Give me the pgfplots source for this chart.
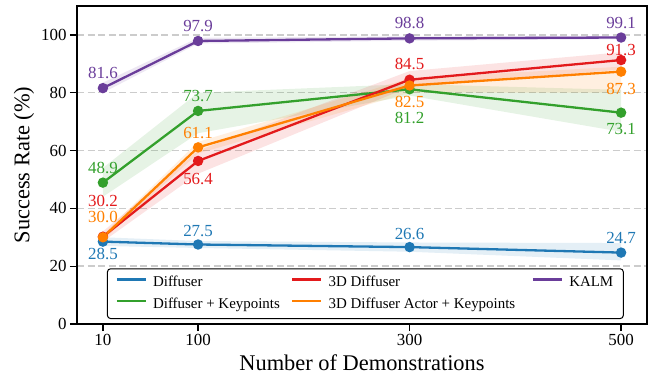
\documentclass[border=0pt]{standalone}
\usepackage{fontspec}
\setmainfont{Liberation Serif}
\usepackage{pgfplots}
\usepackage{pgfplotstable}
\pgfplotsset{compat=1.18}
\usepgfplotslibrary{fillbetween}
\definecolor{cblue}{HTML}{1F78B4}
\definecolor{cgreen}{HTML}{33A02C}
\definecolor{cred}{HTML}{E31A1C}
\definecolor{corange}{HTML}{FF7F00}
\definecolor{cpurple}{HTML}{6A3D9A}
\definecolor{cgrid}{HTML}{CCCCCC}

\pgfplotstableread{
x y lo hi dy lab
10 28.5 27.0 30.0 -12.5 28.5
100 27.5 26.3 28.7 13.5 27.5
300 26.6 25.0 28.2 13.5 26.6
500 24.7 22.0 28.0 15 24.7
}\diffuser
\pgfplotstableread{
x y lo hi dy lab
10 48.9 44.0 54.0 15 48.9
100 73.7 66.0 80.0 15 73.7
300 81.2 79.0 83.0 -28.5 81.2
500 73.1 66.5 81.0 -16 73.1
}\diffkp
\pgfplotstableread{
x y lo hi dy lab
10 30.2 28.5 32.0 35.5 30.2
100 56.4 52.0 60.0 -18 56.4
300 84.5 82.0 87.5 16 84.5
500 91.3 88.0 94.0 10 91.3
}\tdd
\pgfplotstableread{
x y lo hi dy lab
10 30.0 29.0 31.0 20 30.0
100 61.1 59.0 63.0 14 61.1
300 82.5 80.0 85.0 -16.5 82.5
500 87.3 80.0 89.0 -17 87.3
}\tdda
\pgfplotstableread{
x y lo hi dy lab
10 81.6 80.0 83.5 15 81.6
100 97.9 97.0 99.0 15 97.9
300 98.8 98.0 99.5 15 98.8
500 99.1 98.5 99.6 14.5 99.1
}\kalm

\pgfplotsset{
  series/.style={
    #1, line width=2.3bp, mark=*, mark size=4bp, mark options={solid},
    nodes near coords, point meta=explicit symbolic,
    visualization depends on={\thisrow{dy}\as\dy},
    every node near coord/.style={anchor=center, yshift=\dy bp,
      font=\fontsize{17}{17}\selectfont, text=#1, inner sep=0pt},
    forget plot
  },
}

\newcommand{\band}[3]{%
  \addplot[name path=#1lo, draw=none, forget plot] table[x=x,y=lo]{#2};
  \addplot[name path=#1hi, draw=none, forget plot] table[x=x,y=hi]{#2};
  \addplot[fill=#3, fill opacity=0.12, draw=none, forget plot] fill between[of=#1lo and #1hi];
}

\begin{document}
\begin{tikzpicture}
\begin{axis}[
  at={(0,0)}, anchor=south west,
  scale only axis, width=570bp, height=318bp,
  xmin=-14.5, xmax=524.5, ymin=0, ymax=110,
  xtick={10,100,300,500}, ytick={0,20,40,60,80,100},
  xtick pos=bottom, ytick pos=left,
  tick align=outside, major tick length=7bp,
  tick style={line width=1.3bp, black},
  axis line style={line width=2bp},
  ymajorgrids,
  grid style={cgrid, line width=1.4bp, dash pattern=on 7bp off 3.5bp},
  tick label style={font=\fontsize{17}{17}\selectfont},
  /pgf/number format/assume math mode=true,
  xlabel={Number of Demonstrations},
  ylabel={Success Rate (\%)},
  xlabel style={at={(axis description cs:0.5,-0.1233)}, anchor=center, font=\fontsize{22.5}{22.5}\selectfont},
  ylabel style={at={(axis description cs:-0.0932,0.5)}, anchor=center, font=\fontsize{22.5}{22.5}\selectfont},
  legend columns=3,
  legend cell align=left,
  legend image code/.code={\draw[#1, line width=2.6bp] (0bp,3.5bp) -- (29bp,3.5bp);},
  legend style={at={(axis description cs:0.0526,0.0157)}, anchor=south west,
    draw=black, line width=1bp, rounded corners=3bp,
    font=\fontsize{15}{15}\selectfont,
    inner xsep=8bp, inner ysep=6.5bp, column sep=0pt, row sep=6.7bp,
    nodes={inner xsep=0pt, inner ysep=0pt, text height=11bp, text depth=4bp}},
]
\band{a}{\diffuser}{cblue}
\band{b}{\diffkp}{cgreen}
\band{c}{\tdd}{cred}
\band{d}{\tdda}{corange}
\band{e}{\kalm}{cpurple}

\addplot[series=cblue] table[x=x,y=y,meta=lab]{\diffuser};
\addplot[series=cgreen] table[x=x,y=y,meta=lab]{\diffkp};
\addplot[series=cred] table[x=x,y=y,meta=lab]{\tdd};
\addplot[series=corange] table[x=x,y=y,meta=lab]{\tdda};
\addplot[series=cpurple] table[x=x,y=y,meta=lab]{\kalm};

\addlegendimage{cblue}
\addlegendentry{\hspace*{6bp}\makebox[138bp][l]{Diffuser}}
\addlegendimage{cred}
\addlegendentry{\hspace*{6bp}\makebox[203bp][l]{3D Diffuser}}
\addlegendimage{cpurple}
\addlegendentry{\hspace*{6bp}\makebox[46bp][l]{KALM}}
\addlegendimage{cgreen}
\addlegendentry{\hspace*{6bp}\makebox[138bp][l]{Diffuser + Keypoints}}
\addlegendimage{corange}
\addlegendentry{\hspace*{6bp}\makebox[203bp][l]{3D Diffuser Actor + Keypoints}}
\end{axis}
\pgfresetboundingbox
\path[use as bounding box] (-77bp,-57bp) rectangle (580bp,324bp);
\end{tikzpicture}
\end{document}
